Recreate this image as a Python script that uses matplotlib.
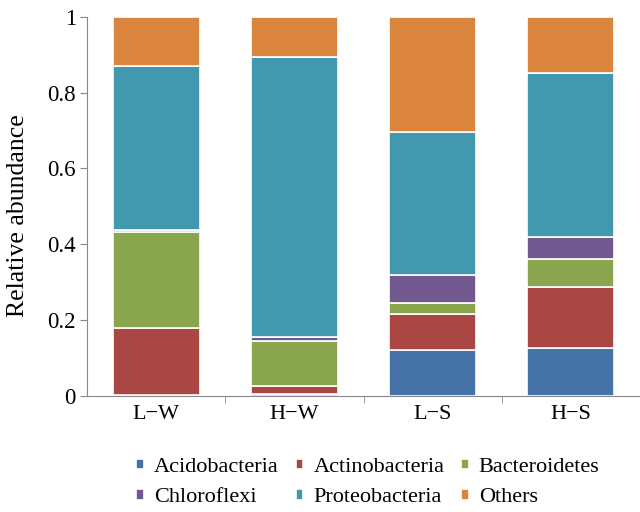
import matplotlib
matplotlib.use("Agg")
import matplotlib.pyplot as plt
import numpy as np

plt.rcParams['font.family'] = ['Liberation Serif', 'DejaVu Serif']

samples = ['L\u2212W', 'H\u2212W', 'L\u2212S', 'H\u2212S']
phyla = ['Acidobacteria', 'Actinobacteria', 'Bacteroidetes',
         'Chloroflexi', 'Proteobacteria', 'Others']
colors = ['#4572A7', '#AA4643', '#89A54E', '#71588F', '#4198AF', '#DB843D']

# relative abundance per sample (bottom to top)
acido = [0.003, 0.005, 0.122, 0.126]
actino = [0.177, 0.020, 0.093, 0.160]
bactero = [0.252, 0.120, 0.030, 0.074]
chloro = [0.006, 0.009, 0.075, 0.058]
proteo = [0.433, 0.740, 0.376, 0.435]
others = [0.129, 0.106, 0.304, 0.147]
values = [acido, actino, bactero, chloro, proteo, others]

fig = plt.figure(figsize=(6.4, 5.12), dpi=100)
ax = fig.add_axes([0.136, 0.227, 0.864, 0.740])

x = np.arange(len(samples))
bottom = np.zeros(len(samples))
handles = []
for name, vals, c in zip(phyla, values, colors):
    b = ax.bar(x, vals, width=0.63, bottom=bottom, color=c, edgecolor='white',
               linewidth=1.2, label=name)
    handles.append(b)
    bottom += np.array(vals)

ax.set_xlim(-0.5, 3.5)
ax.set_ylim(0, 1)
ax.set_yticks([0, 0.2, 0.4, 0.6, 0.8, 1.0])
ax.set_yticklabels(['0', '0.2', '0.4', '0.6', '0.8', '1'], fontsize=16.5)
ax.set_xticks(x)
ax.set_xticklabels(samples, fontsize=16)
ax.tick_params(axis='x', which='major', length=0, pad=7)
ax.set_xticks([0.5, 1.5, 2.5], minor=True)
ax.tick_params(axis='x', which='minor', length=5, color='#888888', direction='out')
ax.tick_params(axis='y', length=5, color='#888888', direction='out', pad=3)
ax.set_ylabel('Relative abundance', fontsize=18.5)
ax.yaxis.set_label_coords(-0.105, 0.475)

for s in ['top', 'right']:
    ax.spines[s].set_visible(False)
for s in ['left', 'bottom']:
    ax.spines[s].set_color('#888888')

# legend fills row by row in the reference
order = [0, 3, 1, 4, 2, 5]
fig.legend([handles[i] for i in order], [phyla[i] for i in order],
           loc='upper left', bbox_to_anchor=(0.213, 0.106), ncol=3, frameon=False,
           fontsize=16, handlelength=0.35, handleheight=0.35, handletextpad=0.45,
           columnspacing=0.75, labelspacing=0.52, borderpad=0, borderaxespad=0)

fig.savefig('out.png', dpi=100)
